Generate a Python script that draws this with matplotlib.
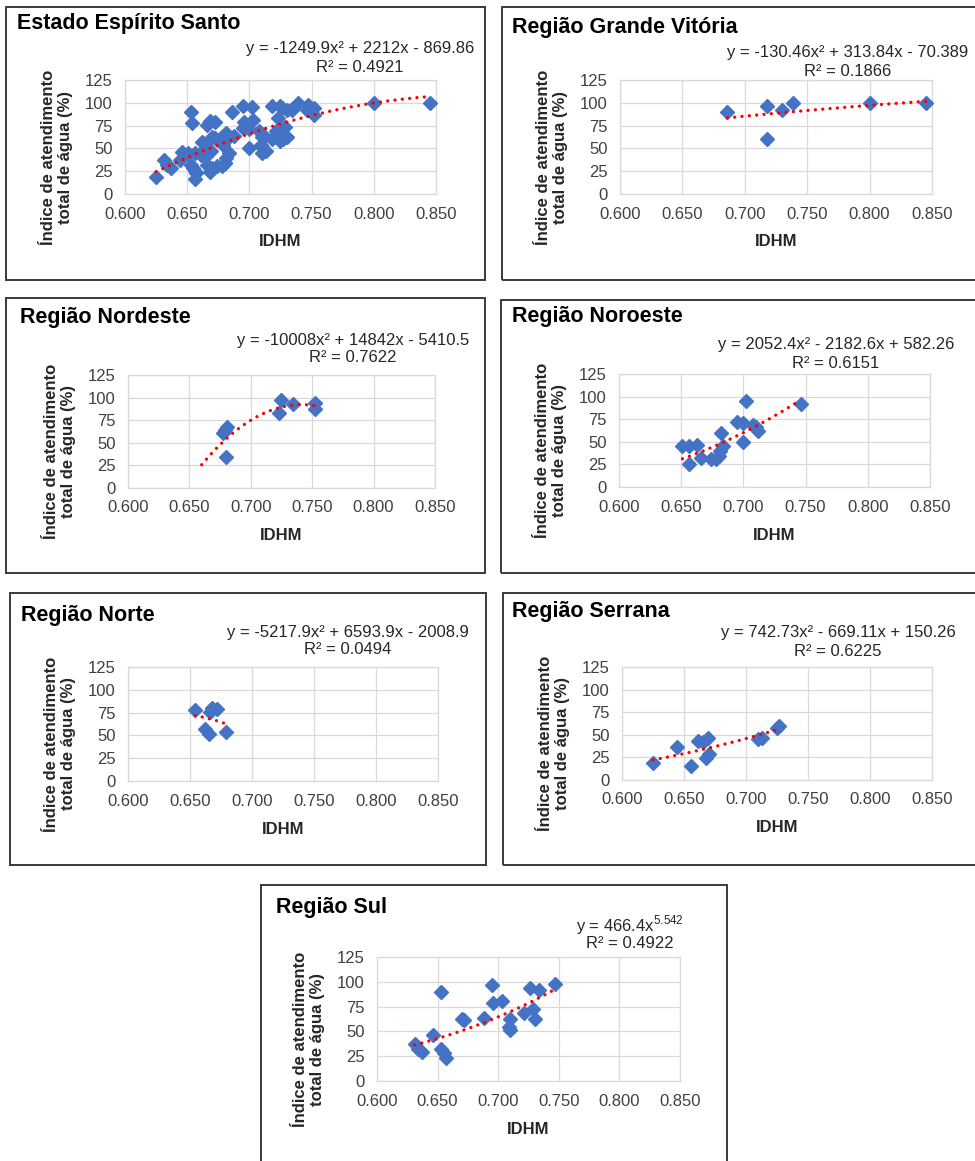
import numpy as np
import matplotlib
matplotlib.use('Agg')
import matplotlib.pyplot as plt
from matplotlib.patches import Rectangle
from matplotlib.ticker import FormatStrFormatter

plt.rcParams['font.family'] = ['Liberation Sans', 'DejaVu Sans']
plt.rcParams['mathtext.fontset'] = 'custom'
plt.rcParams['mathtext.rm'] = 'Liberation Sans'

# IDHM x water service index (%), one pair of lists per region
gv_x = [0.686, 0.718, 0.718, 0.730, 0.739, 0.800, 0.845]
gv_y = [90, 97, 60, 92, 100, 100, 100]

ne_x = [0.677, 0.679, 0.681, 0.680, 0.723, 0.725, 0.734, 0.752, 0.752]
ne_y = [61, 64, 67, 34, 83, 97, 93, 94, 87]

no_x = [0.651, 0.656, 0.656, 0.663, 0.666, 0.674, 0.678, 0.680, 0.682, 0.684,
        0.681, 0.695, 0.700, 0.702, 0.700, 0.708, 0.712, 0.710, 0.746]
no_y = [45, 45, 25, 47, 32, 31, 31, 34, 60, 45, 40, 72, 71, 95, 50, 69, 62, 66, 92]

nt_x = [0.654, 0.662, 0.665, 0.666, 0.668, 0.672, 0.679]
nt_y = [78, 57, 51, 76, 80, 79, 54]

se_x = [0.625, 0.644, 0.656, 0.661, 0.665, 0.669, 0.668, 0.670, 0.710, 0.713, 0.727, 0.725]
se_y = [19, 37, 16, 43, 42, 47, 24, 29, 45, 47, 60, 58]

su_x = [0.631, 0.634, 0.637, 0.646, 0.653, 0.653, 0.655, 0.657, 0.670, 0.672, 0.688, 0.695,
        0.696, 0.703, 0.710, 0.709, 0.710, 0.721, 0.726, 0.734, 0.729, 0.730, 0.747]
su_y = [37, 32, 29, 46, 90, 32, 28, 23, 63, 61, 64, 97, 79, 81, 62, 54, 51, 69, 94, 92, 73, 63, 98]

# whole state = all regions together
es_x = gv_x + ne_x + no_x + nt_x + se_x + su_x
es_y = gv_y + ne_y + no_y + nt_y + se_y + su_y

titles = ['Estado Espírito Santo', 'Região Grande Vitória', 'Região Nordeste',
          'Região Noroeste', 'Região Norte', 'Região Serrana', 'Região Sul']
equations = ['y = -1249.9x² + 2212x - 869.86', 'y = -130.46x² + 313.84x - 70.389',
             'y = -10008x² + 14842x - 5410.5', 'y = 2052.4x² - 2182.6x + 582.26',
             'y = -5217.9x² + 6593.9x - 2008.9', 'y = 742.73x² - 669.11x + 150.26',
             r'y = 466.4x$^{\mathrm{5.542}}$']
r2_labels = ['R² = 0.4921', 'R² = 0.1866', 'R² = 0.7622', 'R² = 0.6151',
             'R² = 0.0494', 'R² = 0.6225', 'R² = 0.4922']
# trendline coefficients (polynomial, highest power first) and power fit for Sul
poly_coefs = [[-1249.9, 2212, -869.86], [-130.46, 313.84, -70.389],
              [-10008, 14842, -5410.5], [2052.4, -2182.6, 582.26],
              [-5217.9, 6593.9, -2008.9], [742.73, -669.11, 150.26]]
power_coef = (466.4, 5.542)
backward = [0, 0, 0.017, 0, 0, 0, 0]   # trend forecast backward

data = [(es_x, es_y), (gv_x, gv_y), (ne_x, ne_y), (no_x, no_y),
        (nt_x, nt_y), (se_x, se_y), (su_x, su_y)]

W, H = 975, 1161
# layout in pixels: box (x0, y0, x1, y1), axes (l, t, r, b), title (x, y), eq (cx, y_eq, y_r2)
boxes = [(6, 7, 485, 280), (502, 7, 985, 280), (6, 298, 485, 573), (501, 300, 985, 573),
         (10, 593, 486, 865), (503, 593, 985, 865), (261, 885, 727, 1175)]
axes_px = [(125, 80, 436, 194), (620, 80, 932, 194), (128, 375, 435, 488), (619, 374, 930, 487),
           (128, 667, 438, 781), (622, 667, 932, 780), (377, 957, 680, 1081)]
title_px = [(17, 24), (512, 28), (20, 318), (512, 317), (21, 615), (512, 612), (276, 908)]
eq_px = [(360, 48, 67), (848, 53, 71), (353, 340, 358), (836, 344, 363),
         (348, 632, 650), (838, 633, 652), (630, 925, 943)]

def fx(px):
    return px / W

def fy(py):
    return 1 - py / H

fig = plt.figure(figsize=(W / 100, H / 100), dpi=100)
fig.patch.set_facecolor('white')

for i in range(7):
    x0, y0, x1, y1 = boxes[i]
    fig.patches.append(Rectangle((fx(x0), fy(y1)), (x1 - x0) / W, (y1 - y0) / H,
                                 transform=fig.transFigure, fill=False,
                                 ec='#3a3a3a', lw=1.4))
    l, t, r, b = axes_px[i]
    ax = fig.add_axes([fx(l), fy(b), (r - l) / W, (b - t) / H])
    ax.set_xlim(0.6, 0.85)
    ax.set_ylim(0, 125)
    ax.set_xticks(np.arange(0.6, 0.851, 0.05))
    ax.xaxis.set_major_formatter(FormatStrFormatter('%.3f'))
    ax.set_yticks(range(0, 126, 25))
    ax.grid(color='#D9D9D9', lw=0.9)
    ax.set_axisbelow(True)
    for s in ax.spines.values():
        s.set_color('#D9D9D9')
        s.set_linewidth(0.9)
    ax.tick_params(length=0, pad=9, labelsize=12, colors='#404040')

    xs, ys = data[i]
    ax.plot(xs, ys, 'D', color='#4472C4', mec='#4472C4', ms=7, clip_on=False, zorder=3)

    xt = np.linspace(min(xs) - backward[i], max(xs), 200)
    if i < 6:
        yt = np.polyval(poly_coefs[i], xt)
    else:
        yt = power_coef[0] * xt ** power_coef[1]
    ax.plot(xt, yt, color='#FF0000', lw=2.4, linestyle=(0, (0.01, 2.2)),
            dash_capstyle='round', zorder=4)

    tx, ty = title_px[i]
    fig.text(fx(tx), fy(ty), titles[i], fontsize=15.5, fontweight='bold',
             ha='left', va='center', color='black')
    cx, ye, yr = eq_px[i]
    fig.text(fx(cx), fy(ye), equations[i], fontsize=12, ha='center', va='center', color='#262626')
    fig.text(fx(cx), fy(yr), r2_labels[i], fontsize=12, ha='center', va='center', color='#262626')

    fig.text(fx((l + r) / 2), fy(b + 48), 'IDHM', fontsize=12, fontweight='bold',
             ha='center', va='center', color='#262626')
    fig.text(fx(l - 68), fy((t + b) / 2 + 20), 'Índice de atendimento\ntotal de água (%)',
             fontsize=12, fontweight='bold', rotation=90, ha='center', va='center',
             multialignment='center', linespacing=1.15, color='#262626')

fig.savefig('out.png', dpi=100)
